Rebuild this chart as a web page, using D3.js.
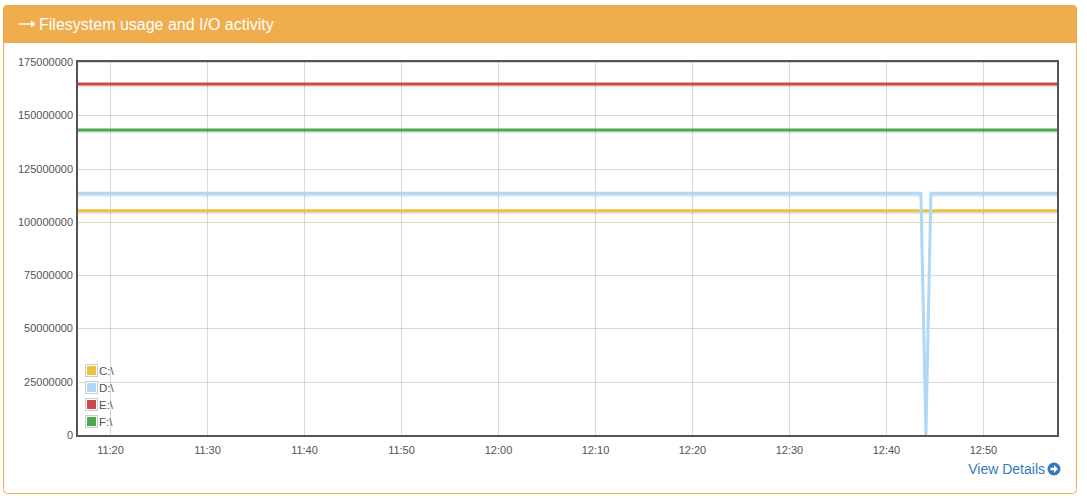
<!DOCTYPE html>
<html><head><meta charset="utf-8">
<script src="https://cdn.jsdelivr.net/npm/d3@7"></script>
<style>
html,body{margin:0;padding:0;background:#fff;}
svg{display:block;font-family:"Liberation Sans",Arial,Helvetica,sans-serif;}
</style></head>
<body>
<svg id="c" width="1087" height="500"></svg>
<script>
// ---- data ----
const title = "Filesystem usage and I/O activity";
const seriesNames = ["C:\\", "D:\\", "E:\\", "F:\\"];
const seriesColors = ["#edc240", "#afd8f8", "#cb4b4b", "#4da74d"];
const times = ["11:16:42", "12:43:36", "12:44:07", "12:44:38", "12:57:38"];
const valuesC = [105200000, 105200000, 105200000, 105200000, 105200000];
const valuesD = [113400000, 113400000, 0, 113400000, 113400000];
const valuesE = [164700000, 164700000, 164700000, 164700000, 164700000];
const valuesF = [143100000, 143100000, 143100000, 143100000, 143100000];
const yTicks = [0, 25000000, 50000000, 75000000, 100000000, 125000000, 150000000, 175000000];
const xTickLabels = ["11:20", "11:30", "11:40", "11:50", "12:00", "12:10", "12:20", "12:30", "12:40", "12:50"];

const parse = d3.timeParse("%H:%M:%S");
const parseHM = d3.timeParse("%H:%M");
const series = [valuesC, valuesD, valuesE, valuesF].map((vals, i) => ({
  name: seriesNames[i], color: seriesColors[i],
  points: vals.map((v, j) => ({t: parse(times[j]), v}))
}));

const svg = d3.select("#c");

// panel
svg.append("rect").attr("x", 3.5).attr("y", 5.5).attr("width", 1073).attr("height", 488)
  .attr("rx", 4).attr("fill", "#fff").attr("stroke", "#f0ad4e");
svg.append("path")
  .attr("d", "M3,43 L3,9.5 Q3,5 7.5,5 L1072.5,5 Q1077,5 1077,9.5 L1077,43 Z")
  .attr("fill", "#f0ad4e");
// arrow icon
svg.append("path").attr("d", "M19,23.2 L31,23.2 L31,20.5 L35.5,24 L31,27.5 L31,24.8 L19,24.8 Z")
  .attr("fill", "#fff");
svg.append("text").attr("x", 39).attr("y", 30).attr("fill", "#fff")
  .attr("font-size", 16).text(title);

// plot
const L = 78, R = 1057, T = 62, B = 435;
const x = d3.scaleTime().domain([parse(times[0]), parse(times[times.length - 1])]).range([L, R]);
const y = d3.scaleLinear().domain([0, 175000000]).range([B, T]);

const grid = svg.append("g");
grid.selectAll(".gy").data(yTicks).enter().append("line")
  .attr("x1", L).attr("x2", R)
  .attr("y1", d => Math.round(y(d)) + 0.5).attr("y2", d => Math.round(y(d)) + 0.5)
  .attr("stroke", "rgba(84,84,84,0.22)");
grid.selectAll(".gx").data(xTickLabels).enter().append("line")
  .attr("y1", T).attr("y2", B)
  .attr("x1", d => Math.round(x(parseHM(d))) + 0.5).attr("x2", d => Math.round(x(parseHM(d))) + 0.5)
  .attr("stroke", "rgba(84,84,84,0.22)");

// axis labels via d3 axes
const yAxis = d3.axisLeft(y).tickValues(yTicks).tickSize(0).tickPadding(5).tickFormat(d3.format("d"));
const gy = svg.append("g").attr("transform", `translate(${L},0)`).call(yAxis);
gy.select(".domain").remove();
gy.selectAll("text").attr("font-size", 11).attr("fill", "#545454")
  .attr("font-family", "Liberation Sans, Arial, sans-serif");

const xAxis = d3.axisBottom(x).tickValues(xTickLabels.map(parseHM)).tickSize(0).tickPadding(11)
  .tickFormat(d3.timeFormat("%H:%M"));
const gx = svg.append("g").attr("transform", `translate(0,${B})`).call(xAxis);
gx.select(".domain").remove();
gx.selectAll("text").attr("font-size", 11).attr("fill", "#545454")
  .attr("font-family", "Liberation Sans, Arial, sans-serif");

// lines
const clip = svg.append("clipPath").attr("id", "pc").append("rect")
  .attr("x", L).attr("y", T - 2).attr("width", R - L).attr("height", B - T + 2);
const line = d3.line().x(d => x(d.t)).y(d => y(d.v));
const lg = svg.append("g").attr("clip-path", "url(#pc)");
series.forEach(s => {
  lg.append("path").attr("d", line(s.points)).attr("fill", "none")
    .attr("stroke", "rgba(0,0,0,0.08)").attr("stroke-width", 2)
    .attr("transform", "translate(0,2.5)").attr("stroke-linejoin", "round");
  lg.append("path").attr("d", line(s.points)).attr("fill", "none")
    .attr("stroke", "rgba(0,0,0,0.05)").attr("stroke-width", 2)
    .attr("transform", "translate(0,1.5)").attr("stroke-linejoin", "round");
});
series.forEach(s => {
  lg.append("path").attr("d", line(s.points)).attr("fill", "none")
    .attr("stroke", s.color).attr("stroke-width", 3).attr("stroke-linejoin", "round");
});

// border
svg.append("rect").attr("x", L - 1).attr("y", T - 1).attr("width", R - L + 2).attr("height", B - T + 2)
  .attr("fill", "none").attr("stroke", "#545454").attr("stroke-width", 2);

// legend
const leg = svg.append("g");
series.forEach((s, i) => {
  const yy = 364 + i * 17;
  leg.append("rect").attr("x", 85.5).attr("y", yy + 0.5).attr("width", 12).attr("height", 12)
    .attr("fill", "#fff").attr("stroke", "#ccc");
  leg.append("rect").attr("x", 87).attr("y", yy + 2).attr("width", 9).attr("height", 9)
    .attr("fill", s.color);
  leg.append("text").attr("x", 99).attr("y", yy + 11).attr("font-size", 11.5)
    .attr("fill", "#545454").text(s.name);
});

// view details
svg.append("text").attr("x", 1045).attr("y", 474).attr("text-anchor", "end")
  .attr("font-size", 14).attr("fill", "#337ab7").text("View Details");
const ic = svg.append("g").attr("transform", "translate(1054,469)");
ic.append("circle").attr("r", 6.5).attr("fill", "#337ab7");
ic.append("path").attr("d", "M-3.5,-1.3 L0,-1.3 L0,-4 L3.8,0 L0,4 L0,1.3 L-3.5,1.3 Z").attr("fill", "#fff");
</script>
</body></html>
